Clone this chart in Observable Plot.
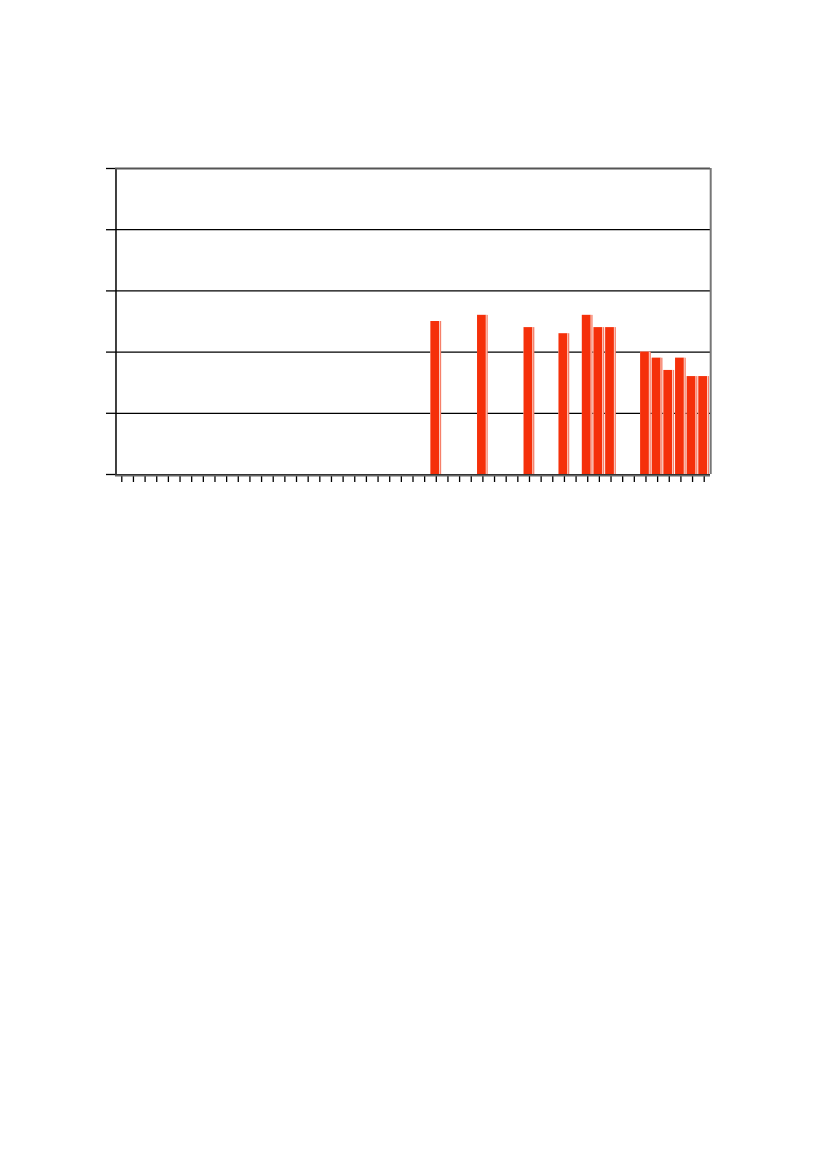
<!DOCTYPE html>
<html><head><meta charset="utf-8">
<script src="https://cdn.jsdelivr.net/npm/d3@7"></script>
<script src="https://cdn.jsdelivr.net/npm/@observablehq/plot@0.6"></script>
<style>html,body{margin:0;padding:0;background:#fff;}</style>
</head><body><div id="chart"></div>
<script>
const categories = Array.from({length: 51}, (_, i) => String(i + 1));
const barCategories = ["28","32","36","39","41","42","43","46","47","48","49","50","51"];
const barValues = [2.5, 2.6, 2.4, 2.3, 2.6, 2.4, 2.4, 2.0, 1.9, 1.7, 1.9, 1.6, 1.6];
const yTicks = [0, 1, 2, 3, 4, 5];

const data = barCategories.map((c, i) => ({cat: c, value: barValues[i]}));

const chart = Plot.plot({
  width: 827, height: 1169,
  marginLeft: 115, marginRight: 117, marginTop: 168, marginBottom: 695,
  style: {background: "#fff"},
  x: {type: "band", domain: categories, padding: 0.08, axis: null, label: null},
  y: {domain: [0, 5], axis: null, label: null},
  marks: [
    Plot.ruleY(yTicks, {stroke: "#000", strokeWidth: 1.2}),
    Plot.barY(data, {x: "cat", y: "value", fill: "#f6806a"}),
    Plot.barY(data, {x: "cat", y: "value", fill: "#fff4f0", insetRight: 1.3}),
    Plot.barY(data, {x: "cat", y: "value", fill: "#f5300a", insetRight: 2}),
    Plot.axisX({tickSize: 8, tickFormat: () => "", label: null, stroke: "#000", strokeWidth: 1.3}),
    Plot.axisY({ticks: yTicks, tickSize: 9, tickFormat: () => "", label: null, stroke: "#000", strokeWidth: 1.3}),
    Plot.ruleX([0], {x: () => categories[0], dx: -5.8, stroke: "#000", strokeWidth: 1.5}),
    Plot.ruleY([5], {stroke: "#555", strokeWidth: 2}),
    Plot.ruleY([0], {stroke: "#666", strokeWidth: 2, dy: 1}),
    Plot.ruleX([0], {x: () => categories[50], dx: 6.5, stroke: "#777", strokeWidth: 2})
  ]
});
document.getElementById("chart").appendChild(chart);
</script></body></html>
